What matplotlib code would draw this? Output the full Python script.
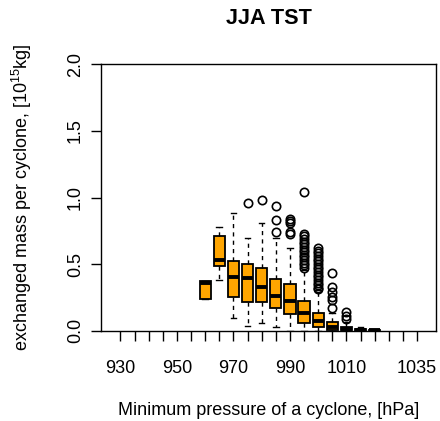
import matplotlib
matplotlib.use("Agg")
import matplotlib.pyplot as plt

plt.rcParams['font.family'] = ['Liberation Sans', 'DejaVu Sans']
plt.rcParams['mathtext.fontset'] = 'custom'
plt.rcParams['mathtext.rm'] = 'Liberation Sans'
plt.rcParams['mathtext.it'] = 'Liberation Sans:italic'
plt.rcParams['mathtext.bf'] = 'Liberation Sans:bold'

# categories: minimum pressure classes (hPa)
pressures = list(range(930, 1040, 5))
tick_labels = ['930', '', '', '', '950', '', '', '', '970', '', '', '', '990', '', '', '',
               '1010', '', '', '', '', '1035']

# box statistics for classes that have data
box_pressures = [960, 965, 970, 975, 980, 985, 990, 995, 1000, 1005, 1010, 1015, 1020]
whislo = [0.24, 0.381, 0.093, 0.035, 0.06, 0.03, 0.0, 0.0, 0.0, 0.0, 0.0, 0.0, 0.0]
q1 = [0.24, 0.486, 0.251, 0.213, 0.213, 0.173, 0.123, 0.06, 0.03, 0.005, 0.002, 0.0, 0.0]
med = [0.355, 0.529, 0.401, 0.393, 0.326, 0.261, 0.225, 0.135, 0.075, 0.03, 0.012, 0.005, 0.002]
q3 = [0.373, 0.711, 0.524, 0.501, 0.469, 0.39, 0.349, 0.225, 0.135, 0.068, 0.03, 0.015, 0.004]
whishi = [0.373, 0.781, 0.882, 0.699, 0.807, 0.696, 0.624, 0.456, 0.306, 0.13, 0.068, 0.03, 0.006]
fliers = [
    [],
    [],
    [],
    [0.957],
    [0.982],
    [0.937, 0.832, 0.739],
    [0.84, 0.825, 0.81, 0.745, 0.725],
    [1.04, 0.73, 0.71, 0.69, 0.67, 0.65, 0.63, 0.61, 0.59, 0.57, 0.55, 0.53, 0.51, 0.49, 0.47],
    [0.62, 0.60, 0.58, 0.56, 0.54, 0.52, 0.50, 0.48, 0.46, 0.44, 0.42, 0.40, 0.38,
     0.36, 0.34, 0.32, 0.31],
    [0.43, 0.33, 0.293, 0.255, 0.23, 0.168],
    [0.143, 0.11, 0.085],
    [],
    [],
]

stats = []
for i in range(len(box_pressures)):
    stats.append(dict(whislo=whislo[i], q1=q1[i], med=med[i], q3=q3[i],
                      whishi=whishi[i], fliers=fliers[i]))
positions = [pressures.index(p) + 1 for p in box_pressures]

fig = plt.figure(figsize=(4.40, 4.21), dpi=100)
ax = fig.add_axes([0.2295, 0.2145, 0.7625, 0.6323])

ax.bxp(stats, positions=positions, widths=0.8, patch_artist=True,
       capwidths=0.4,
       boxprops=dict(facecolor='#FFA500', edgecolor='black', linewidth=1.3),
       medianprops=dict(color='black', linewidth=2.8, solid_capstyle='butt'),
       whiskerprops=dict(color='black', linewidth=1.0, linestyle=(0, (3, 3))),
       capprops=dict(color='black', linewidth=1.0),
       flierprops=dict(marker='o', markerfacecolor='none', markeredgecolor='black',
                       markersize=6, markeredgewidth=1.2, linestyle='none'))

ax.set_xlim(-0.38, len(pressures) + 1.38)
ax.set_ylim(0, 2.0)
ax.set_xticks(range(1, len(pressures) + 1))
ax.set_xticklabels(tick_labels, fontsize=13)
ax.set_yticks([0.0, 0.5, 1.0, 1.5, 2.0])
ax.set_yticklabels(['0.0', '0.5', '1.0', '1.5', '2.0'], fontsize=13, rotation=90, va='center')
ax.tick_params(axis='x', length=7.2, width=1.0, pad=14)
ax.tick_params(axis='y', length=7.2, width=1.0, pad=5)
for s in ax.spines.values():
    s.set_linewidth(1.0)

ax.set_xlabel('Minimum pressure of a cyclone, [hPa]', fontsize=13, va='center')
ax.xaxis.set_label_coords(0.5, -0.298)
ax.set_ylabel('exchanged mass per cyclone, [10$^{15}$kg]', fontsize=13, va='center')
ax.yaxis.set_label_coords(-0.2355, 0.5)
ax.text(0.5007, 1.171, 'JJA TST', transform=ax.transAxes, ha='center', va='center',
        fontsize=15.6, fontweight='bold')

fig.savefig('out.png', dpi=100)
